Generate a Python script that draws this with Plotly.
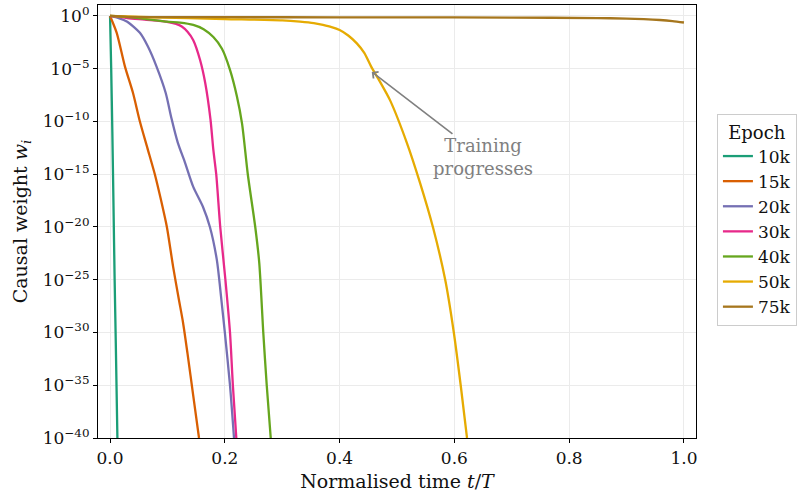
import numpy as np
import plotly.graph_objects as go

epochs = ["10k", "15k", "20k", "30k", "40k", "50k", "75k"]
colors = ["#1b9e77", "#d95f02", "#7570b3", "#e7298a", "#66a61e", "#e6ab02", "#a6761d"]

# normalised time t/T and log10 of the causal weight
t_10k = [0.0, 0.002, 0.004, 0.006, 0.008, 0.010, 0.0128]
lw_10k = [0.0, -5.0, -11.0, -18.0, -25.0, -31.0, -40.0]

t_15k = [0.0, 0.0116, 0.026, 0.040, 0.052, 0.065, 0.078, 0.089, 0.099, 0.110, 0.120, 0.127, 0.135, 0.145, 0.155]
lw_15k = [0.0, -1.6, -4.8, -7.3, -10.0, -12.5, -15.0, -17.5, -20.0, -23.8, -26.9, -29.0, -32.0, -36.0, -40.0]

t_20k = [0.0, 0.015, 0.030, 0.052, 0.066, 0.081, 0.097, 0.107, 0.118, 0.130, 0.145, 0.162, 0.174, 0.186, 0.194, 0.200, 0.209, 0.216]
lw_20k = [0.0, -0.2, -0.55, -1.6, -2.9, -4.8, -7.3, -9.7, -12.0, -13.8, -16.2, -18.1, -20.0, -23.1, -26.9, -30.0, -35.0, -40.0]

t_30k = [0.0, 0.03, 0.060, 0.099, 0.115, 0.125, 0.135, 0.145, 0.157, 0.166, 0.175, 0.180, 0.185, 0.192, 0.201, 0.209, 0.214, 0.220]
lw_30k = [0.0, -0.2, -0.35, -0.55, -0.75, -1.0, -1.5, -2.3, -4.2, -6.4, -9.8, -12.7, -15.0, -20.0, -25.0, -30.0, -35.0, -40.0]

t_40k = [0.0, 0.05, 0.099, 0.122, 0.145, 0.163, 0.180, 0.195, 0.209, 0.221, 0.230, 0.240, 0.253, 0.260, 0.267, 0.273, 0.280]
lw_40k = [0.0, -0.2, -0.54, -0.63, -0.85, -1.25, -2.0, -3.1, -5.1, -7.6, -10.2, -15.0, -20.0, -23.4, -30.0, -35.0, -40.0]

t_50k = [0.0, 0.07, 0.20, 0.300, 0.331, 0.355, 0.371, 0.386, 0.400, 0.415, 0.430, 0.443, 0.455, 0.470, 0.488, 0.517, 0.540, 0.563, 0.584, 0.599, 0.611, 0.622]
lw_50k = [0.0, -0.12, -0.29, -0.42, -0.54, -0.68, -0.85, -1.05, -1.33, -1.85, -2.6, -3.5, -4.8, -6.2, -8.0, -12.0, -15.8, -20.1, -25.0, -30.0, -35.0, -40.0]

t_75k = [0.0, 0.03, 0.10, 0.30, 0.50, 0.70, 0.85, 0.90, 0.93, 0.958, 0.98, 1.0]
lw_75k = [0.0, -0.08, -0.11, -0.12, -0.13, -0.15, -0.2, -0.25, -0.3, -0.38, -0.48, -0.62]

series_t = [t_10k, t_15k, t_20k, t_30k, t_40k, t_50k, t_75k]
series_lw = [lw_10k, lw_15k, lw_20k, lw_30k, lw_40k, lw_50k, lw_75k]

x_ticks = [0.0, 0.2, 0.4, 0.6, 0.8, 1.0]
y_exponents = [0, -5, -10, -15, -20, -25, -30, -35, -40]

FONT = "DejaVu Serif"

fig = go.Figure()
for name, col, t, lw in zip(epochs, colors, series_t, series_lw):
    fig.add_trace(go.Scatter(
        x=t, y=np.power(10.0, np.array(lw, dtype=float)),
        mode="lines", name=name,
        line=dict(color=col, width=2.3, shape="spline", smoothing=0.7),
    ))

fig.add_annotation(
    x=0.456, y=-5.3, xref="x", yref="y",
    ax=0.65, ay=-13.4, axref="x", ayref="y",
    text="Training<br>progresses", showarrow=True,
    arrowhead=4, arrowsize=1.0, arrowwidth=1.6, arrowcolor="#808080",
    font=dict(family=FONT, size=18, color="#808080"), align="center",
    standoff=0,
)

axis_common = dict(
    showline=True, linecolor="black", linewidth=1.2, mirror=True,
    ticks="outside", ticklen=4, tickwidth=1, tickcolor="black",
    showgrid=True, gridcolor="#ebebeb", gridwidth=0.8, zeroline=False,
    tickfont=dict(family=FONT, size=17, color="#111111"),
    automargin=False,
)

fig.update_xaxes(
    range=[-0.021, 1.021], tickvals=x_ticks,
    ticktext=[f"{v:.1f}" for v in x_ticks],
    title=dict(text="Normalised time <i>t</i>/<i>T</i>",
               font=dict(family=FONT, size=19, color="#111111"), standoff=8),
    **axis_common,
)
fig.update_yaxes(
    type="log", range=[-40, 1.04],
    tickvals=[10.0 ** e for e in y_exponents],
    ticktext=[f"10<sup>{str(e).replace('-', '−')}</sup>" for e in y_exponents],
    title=dict(text="Causal weight <i>w<sub>i</sub></i>",
               font=dict(family=FONT, size=19, color="#111111"), standoff=10),
    **axis_common,
)

fig.update_layout(
    width=808, height=494,
    margin=dict(l=98, r=112, t=5, b=56),
    paper_bgcolor="white", plot_bgcolor="white",
    font=dict(family=FONT, color="#111111"),
    legend=dict(
        title=dict(text="Epoch", font=dict(family=FONT, size=18), side="top center"),
        font=dict(family=FONT, size=17),
        x=1.035, xanchor="left", y=0.748, yanchor="top",
        bordercolor="#cccccc", borderwidth=1, bgcolor="white",
    ),
)

fig.write_html("out.html", post_script="document.body.style.margin='0';",
               config={"displayModeBar": False})
